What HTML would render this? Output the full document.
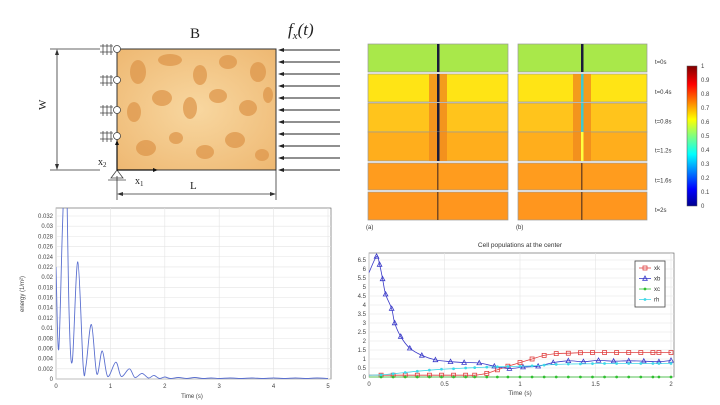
<!DOCTYPE html>
<html><head><meta charset="utf-8"><style>
body{margin:0;background:#fff;width:720px;height:405px;overflow:hidden;font-family:"Liberation Sans",sans-serif;}
svg{position:absolute;left:0;top:0}
</style></head><body>
<svg width="720" height="405" viewBox="0 0 720 405">
<defs>
<radialGradient id="bone" cx="50%" cy="50%" r="70%"><stop offset="0" stop-color="#f8d7a0"/><stop offset="1" stop-color="#eeb872"/></radialGradient>
<linearGradient id="cbar" x1="0" y1="1" x2="0" y2="0">
<stop offset="0" stop-color="#00008f"/><stop offset="0.12" stop-color="#0000ff"/><stop offset="0.37" stop-color="#00ffff"/><stop offset="0.5" stop-color="#7fff7f"/><stop offset="0.62" stop-color="#ffff00"/><stop offset="0.87" stop-color="#ff0000"/><stop offset="1" stop-color="#800000"/></linearGradient>
</defs>

<!-- top-left diagram -->
<g>
<rect x="117" y="49" width="159" height="121" fill="url(#bone)" stroke="#333" stroke-width="1"/>
<g fill="#dd9448" opacity="0.7">
<ellipse cx="138" cy="72" rx="8" ry="12"/><ellipse cx="170" cy="60" rx="12" ry="6"/><ellipse cx="200" cy="75" rx="7" ry="10"/><ellipse cx="228" cy="62" rx="9" ry="7"/><ellipse cx="258" cy="72" rx="8" ry="10"/>
<ellipse cx="134" cy="112" rx="7" ry="10"/><ellipse cx="162" cy="98" rx="10" ry="8"/><ellipse cx="190" cy="108" rx="7" ry="11"/><ellipse cx="218" cy="96" rx="9" ry="7"/><ellipse cx="248" cy="108" rx="9" ry="8"/><ellipse cx="268" cy="95" rx="5" ry="8"/>
<ellipse cx="146" cy="148" rx="10" ry="8"/><ellipse cx="176" cy="138" rx="7" ry="6"/><ellipse cx="205" cy="152" rx="9" ry="7"/><ellipse cx="235" cy="140" rx="10" ry="8"/><ellipse cx="262" cy="155" rx="7" ry="6"/></g>
<text x="190" y="38" font-family="Liberation Serif" font-size="15" fill="#222">B</text>
<text x="288" y="35" font-family="Liberation Serif" font-style="italic" font-size="17" fill="#222">f<tspan font-size="11" dy="4">x</tspan><tspan dy="-4">(t)</tspan></text>
<g stroke="#222" stroke-width="1">
<line x1="340" y1="50" x2="280" y2="50"/><line x1="340" y1="62" x2="280" y2="62"/><line x1="340" y1="74" x2="280" y2="74"/><line x1="340" y1="86" x2="280" y2="86"/><line x1="340" y1="98" x2="280" y2="98"/><line x1="340" y1="110" x2="280" y2="110"/><line x1="340" y1="122" x2="280" y2="122"/><line x1="340" y1="134" x2="280" y2="134"/><line x1="340" y1="146" x2="280" y2="146"/><line x1="340" y1="158" x2="280" y2="158"/><line x1="340" y1="170" x2="280" y2="170"/></g>
<g fill="#222">
<path d="M278 50l6-2v4z"/><path d="M278 62l6-2v4z"/><path d="M278 74l6-2v4z"/><path d="M278 86l6-2v4z"/><path d="M278 98l6-2v4z"/><path d="M278 110l6-2v4z"/><path d="M278 122l6-2v4z"/><path d="M278 134l6-2v4z"/><path d="M278 146l6-2v4z"/><path d="M278 158l6-2v4z"/><path d="M278 170l6-2v4z"/></g>
<g stroke="#444" stroke-width="0.8" fill="#fff">
<circle cx="117" cy="49" r="3.5"/><circle cx="117" cy="80" r="3.5"/><circle cx="117" cy="110" r="3.5"/><circle cx="117" cy="136" r="3.5"/>
<path d="M103 44v11M107 44v11M111 44v11M100 46h13M100 52h13M103 75v11M107 75v11M111 75v11M100 77h13M100 83h13M103 105v11M107 105v11M111 105v11M100 107h13M100 113h13M103 131v11M107 131v11M111 131v11M100 133h13M100 139h13"/>
<path d="M117 170l-6 8h12z"/><path d="M108 180h18"/></g>
<line x1="117" y1="170" x2="117" y2="142" stroke="#111" stroke-width="1.2"/><path d="M117 140l-2 5h4z" fill="#111"/>
<line x1="117" y1="170" x2="155" y2="170" stroke="#111" stroke-width="1.2"/><path d="M158 170l-5-2v4z" fill="#111"/>
<text x="98" y="165" font-family="Liberation Serif" font-size="10" fill="#222">x<tspan font-size="7" dy="2">2</tspan></text>
<text x="135" y="184" font-family="Liberation Serif" font-size="10" fill="#222">x<tspan font-size="7" dy="2">1</tspan></text>
<g stroke="#333" stroke-width="0.8"><line x1="50" y1="49" x2="100" y2="49"/><line x1="50" y1="170" x2="100" y2="170"/><line x1="57" y1="51" x2="57" y2="168"/><line x1="117" y1="176" x2="117" y2="200"/><line x1="276" y1="170" x2="276" y2="200"/><line x1="119" y1="194" x2="274" y2="194"/></g>
<path d="M57 49l-2 6h4zM57 170l-2-6h4zM117 194l6-2v4zM276 194l-6-2v4z" fill="#333"/>
<text x="42" y="114" font-family="Liberation Serif" font-size="11" fill="#222" transform="rotate(-90 42 110)">W</text>
<text x="190" y="189" font-family="Liberation Serif" font-size="11" fill="#222">L</text>
</g>

<!-- heatmap panels -->
<g id="heat"></g>
<rect x="687" y="66" width="10" height="140" fill="url(#cbar)" stroke="#555" stroke-width="0.5"/>
<g id="cbticks" font-size="6" fill="#444"></g>
<text x="366" y="229" font-size="6" fill="#333">(a)</text><text x="516" y="229" font-size="6" fill="#333">(b)</text>

<g id="energy"></g>
<g id="cells"></g>
</svg>
<script>
const NS='http://www.w3.org/2000/svg';
function mk(p,t,a){const e=document.createElementNS(NS,t);for(const k in a)e.setAttribute(k,a[k]);p.appendChild(e);return e;}

const heatTimes=['t=0s','t=0.4s','t=0.8s','t=1.2s','t=1.6s','t=2s'];
const heatColors=['#a9e84a','#ffe415','#ffc41c','#ffae1c','#ff9c1e','#ff961e'];
const rowsY=[44,74,103,132,163,192],rowH=[28,28,29,29,27,28];
const heat=document.getElementById('heat');
[[368,140],[518,129]].forEach((p,pi)=>{
 heatTimes.forEach((t,i)=>{
  const r=mk(heat,'rect',{x:p[0],y:rowsY[i],width:p[1],height:rowH[i],fill:heatColors[i],stroke:'#999','stroke-width':0.7});
  
  
  const cx=p[0]+(pi==0?70:64);
  if(i>0&&i<4) mk(heat,'rect',{x:cx-9,y:rowsY[i],width:18,height:rowH[i],fill:'#f08a1e',opacity:0.8});
  const lc=pi==1&&i>0&&i<4?(i==3?'#ffff40':'#40c8d0'):(i<4?'#1a1a3a':'#7a4a20');
  mk(heat,'rect',{x:cx-1,y:rowsY[i],width:i<4?2.5:1.5,height:rowH[i],fill:lc});
 });
});
heatTimes.forEach((t,i)=>{const e=mk(heat,'text',{x:655,y:rowsY[i]+rowH[i]/2+6,'font-size':6,fill:'#333'});e.textContent=t;});
const cbt=document.getElementById('cbticks');
for(let v=0;v<=10;v++){const e=mk(cbt,'text',{x:701,y:206-v*14+2});e.textContent=v==0?'0':v==10?'1':'0.'+v;}

function smooth(pts){
 let d='M'+pts[0][0].toFixed(1)+' '+pts[0][1].toFixed(1);
 for(let i=0;i<pts.length-1;i++){
  const p0=pts[Math.max(0,i-1)],p1=pts[i],p2=pts[i+1],p3=pts[Math.min(pts.length-1,i+2)];
  const c1=[p1[0]+(p2[0]-p0[0])/6,p1[1]+(p2[1]-p0[1])/6],c2=[p2[0]-(p3[0]-p1[0])/6,p2[1]-(p3[1]-p1[1])/6];
  d+=`C${c1[0].toFixed(1)} ${c1[1].toFixed(1)} ${c2[0].toFixed(1)} ${c2[1].toFixed(1)} ${p2[0].toFixed(1)} ${p2[1].toFixed(1)}`;
 }
 return d;
}

const eTime=[0,0.05,0.12,0.18,0.24,0.3,0.4,0.5,0.55,0.65,0.75,0.85,0.95,1.1,1.2,1.35,1.45,1.58,1.7,1.8,1.9,2.0,2.1,2.25,2.4,2.55,2.7,2.85,3.0,3.2,3.4,3.6,3.8,4.0,4.2,4.4,4.6,4.8,5.0];
const eVal=[0.022,0.0058,0.03,0.045,0.013,0.0035,0.023,0.0025,0.0025,0.0107,0.001,0.0055,0.0005,0.0033,0.0005,0.002,0.0003,0.0011,0.0002,0.0007,0.0001,0.0004,0.0001,0.0003,0.0001,0.0003,0.0001,0.0002,0.0001,0.0002,0.0001,0.0002,0.0001,0.0002,0.0001,0.0002,0.0001,0.0002,0.0001];
const eYTicks=[0,0.002,0.004,0.006,0.008,0.01,0.012,0.014,0.016,0.018,0.02,0.022,0.024,0.026,0.028,0.03,0.032];
const eXTicks=[0,1,2,3,4,5];
(function(){
 const g=document.getElementById('energy');
 const X0=56,X1=328,Y0=379,Y1=216;
 const sx=t=>X0+(X1-X0)*t/5, sy=v=>Y0-(Y0-Y1)*v/0.032;
 mk(g,'rect',{x:X0,y:208,width:X1-X0+3,height:Y0-208,fill:'#fff',stroke:'#555','stroke-width':0.6});
 eYTicks.forEach(v=>{mk(g,'line',{x1:X0,x2:X1+3,y1:sy(v),y2:sy(v),stroke:'#e4e4e4','stroke-width':0.6});
  const t=mk(g,'text',{x:X0-3,y:sy(v)+2,'font-size':6,'text-anchor':'end',fill:'#444'});t.textContent=String(v);});
 eXTicks.forEach(v=>{mk(g,'line',{x1:sx(v),x2:sx(v),y1:208,y2:Y0,stroke:'#e4e4e4','stroke-width':0.6});
  const t=mk(g,'text',{x:sx(v),y:Y0+9,'font-size':6,'text-anchor':'middle',fill:'#444'});t.textContent=String(v);});
 const cpath=mk(g,'clipPath',{id:'ec'});
 mk(cpath,'rect',{x:X0,y:208,width:X1-X0,height:Y0-208});
 const pts=eTime.map((t,i)=>[sx(t),sy(eVal[i])]);
 const p=mk(g,'path',{d:smooth(pts),fill:'none',stroke:'#5a6fcf','stroke-width':0.9,'clip-path':'url(#ec)'});
 
 
 const xl=mk(g,'text',{x:(X0+X1)/2,y:398,'font-size':6,'text-anchor':'middle',fill:'#444'});xl.textContent='Time (s)';
 const yl=mk(g,'text',{x:24,y:294,'font-size':6,'text-anchor':'middle',fill:'#444',transform:'rotate(-90 24 294)'});yl.textContent='energy (1/m²)';
})();

const xbT=[0,0.05,0.07,0.09,0.11,0.15,0.17,0.21,0.27,0.35,0.44,0.54,0.63,0.73,0.83,0.93,1.02,1.12,1.22,1.32,1.42,1.52,1.62,1.72,1.82,1.92,2];
const xbV=[5.8,6.7,6.25,5.45,4.6,3.8,3.0,2.25,1.6,1.2,0.95,0.85,0.8,0.78,0.6,0.47,0.55,0.6,0.8,0.9,0.85,0.92,0.88,0.9,0.88,0.85,0.92];
const kT=[0,0.08,0.16,0.24,0.32,0.4,0.48,0.56,0.64,0.7,0.78,0.85,0.92,1.0,1.08,1.16,1.24,1.32,1.4,1.48,1.56,1.64,1.72,1.8,1.88,1.92,2];
const xkV=[0.1,0.1,0.1,0.1,0.1,0.1,0.1,0.1,0.1,0.1,0.2,0.4,0.6,0.8,1.0,1.2,1.3,1.32,1.35,1.36,1.36,1.36,1.36,1.36,1.36,1.36,1.36];
const xcV=[0,0,0,0,0,0,0,0,0,0,0,0,0,0,0,0,0,0,0,0,0,0,0,0,0,0,0];
const rhV=[0.1,0.12,0.18,0.25,0.32,0.38,0.43,0.46,0.5,0.52,0.55,0.57,0.58,0.6,0.62,0.66,0.7,0.72,0.73,0.74,0.75,0.75,0.75,0.75,0.75,0.75,0.75];
const cYTicks=[0,0.5,1,1.5,2,2.5,3,3.5,4,4.5,5,5.5,6,6.5];
const cXTicks=[0,0.5,1,1.5,2];
(function(){
 const g=document.getElementById('cells');
 const X0=369,X1=671,Y0=377,Y1=260;
 const sx=t=>X0+(X1-X0)*t/2, sy=v=>Y0-(Y0-Y1)*v/6.5;
 mk(g,'rect',{x:X0,y:253,width:X1-X0+3,height:Y0-253,fill:'#fff',stroke:'#555','stroke-width':0.6});
 cYTicks.forEach(v=>{mk(g,'line',{x1:X0,x2:X1+3,y1:sy(v),y2:sy(v),stroke:'#e4e4e4','stroke-width':0.6});
  const t=mk(g,'text',{x:X0-3,y:sy(v)+2,'font-size':6,'text-anchor':'end',fill:'#444'});t.textContent=String(v);});
 cXTicks.forEach(v=>{mk(g,'line',{x1:sx(v),x2:sx(v),y1:253,y2:Y0,stroke:'#e4e4e4','stroke-width':0.6});
  const t=mk(g,'text',{x:sx(v),y:Y0+9,'font-size':6,'text-anchor':'middle',fill:'#444'});t.textContent=String(v);});
 const ti=mk(g,'text',{x:(X0+X1)/2,y:247,'font-size':6.5,'text-anchor':'middle',fill:'#333'});ti.textContent='Cell populations at the center';
 const xl=mk(g,'text',{x:(X0+X1)/2,y:395,'font-size':6.5,'text-anchor':'middle',fill:'#444'});xl.textContent='Time (s)';
 const series=[['xk',kT,xkV,'#e04040','sq'],['xb',xbT,xbV,'#3a3ac8','tri'],['xc',kT,xcV,'#30c030','star'],['rh',kT,rhV,'#40d8e8','star']];
 function marker(s,x,y,c){
  if(s=='sq')mk(g,'rect',{x:x-2,y:y-2,width:4,height:4,fill:'none',stroke:c,'stroke-width':0.8});
  else if(s=='tri')mk(g,'path',{d:`M${x} ${y-2.5}L${x+2.3} ${y+1.8}L${x-2.3} ${y+1.8}Z`,fill:'none',stroke:c,'stroke-width':0.8});
  else mk(g,'circle',{cx:x,cy:y,r:1.4,fill:c});
 }
 series.forEach(s=>{
  const pts=s[1].map((t,i)=>[sx(t),sy(s[2][i])]);
  const p=mk(g,'path',{d:smooth(pts),fill:'none',stroke:s[3],'stroke-width':0.8});
  
  
  s[1].forEach((t,i)=>{if(i>0)marker(s[4],sx(t),sy(s[2][i]),s[3]);});
 });
 const lg=mk(g,'g',{});
 
 
 mk(lg,'rect',{x:635,y:261,width:30,height:46,fill:'#fff',stroke:'#444','stroke-width':0.8});
 series.forEach((s,i)=>{const y=268+i*10.5;
  mk(g,'line',{x1:639,x2:651,y1:y,y2:y,stroke:s[3],'stroke-width':0.8});marker(s[4],645,y,s[3]);
  const t=mk(g,'text',{x:654,y:y+2,'font-size':6,fill:'#333'});t.textContent=s[0];
  
  });
})();
</script>
</body></html>
